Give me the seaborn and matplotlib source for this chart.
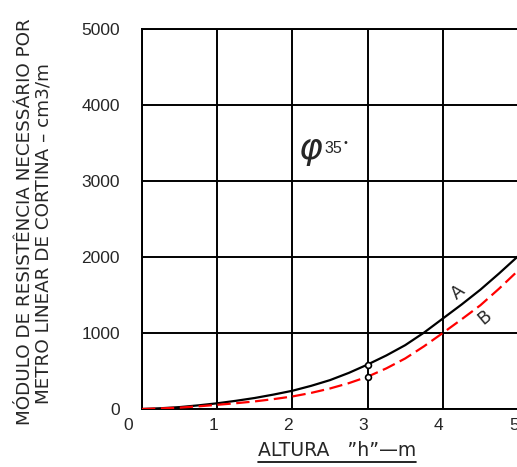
import pandas as pd
import matplotlib.pyplot as plt
import seaborn as sns
from matplotlib.lines import Line2D
from matplotlib.transforms import IdentityTransform, ScaledTranslation

# values
altura = [0, 0.25, 0.5, 0.75, 1, 1.25, 1.5, 1.75, 2, 2.25, 2.5,
          2.75, 3, 3.25, 3.5, 3.75, 4, 4.25, 4.5, 4.75, 5]
modulo_a = [0, 10, 25, 48, 75, 108, 145, 190, 240, 305, 380,
            475, 585, 705, 840, 1005, 1190, 1375, 1570, 1785, 2010]
modulo_b = [0, 8, 18, 35, 55, 76, 100, 130, 165, 212, 270,
            340, 425, 535, 665, 825, 1000, 1180, 1365, 1585, 1820]
ponto_h = [3, 3]
ponto_m = [585, 425]

X_TICKS = [0, 1, 2, 3, 4, 5]
Y_TICKS = [0, 1000, 2000, 3000, 4000, 5000]
Y_LABEL_1 = "MÓDULO DE RESISTÊNCIA NECESSÁRIO POR"
Y_LABEL_2 = "METRO LINEAR DE CORTINA – cm3/m"
X_LABEL = "ALTURA   ”h”—m"


def build_df():
    df = pd.DataFrame({'altura': altura * 2,
                       'modulo': modulo_a + modulo_b,
                       'curva': ['A'] * len(altura) + ['B'] * len(altura)})
    return df


def draw(df):
    sns.set_style("white")
    plt.rcParams['font.family'] = ['DejaVu Sans']
    fig = plt.figure(figsize=(5.17, 4.67), dpi=100)
    ax = fig.add_axes([142 / 517, 1 - 409 / 467, 376 / 517, 380 / 467])

    sns.lineplot(data=df, x='altura', y='modulo', hue='curva', style='curva',
                 palette={'A': 'black', 'B': '#ff0000'},
                 dashes={'A': '', 'B': (6, 2.5)}, linewidth=1.6,
                 legend=False, ax=ax, zorder=3)
    ax.plot(ponto_h, ponto_m, 'o', markersize=4.2, markerfacecolor='white',
            markeredgecolor='black', markeredgewidth=1.2, zorder=4)

    ax.set_xlim(0, 5)
    ax.set_ylim(0, 5000)
    ax.set_xticks(X_TICKS)
    ax.set_yticks(Y_TICKS)
    ax.grid(True, color='black', linewidth=1.4)
    for s in ax.spines.values():
        s.set_color('black')
        s.set_linewidth(1.4)
    ax.tick_params(axis='x', length=0, pad=6.5, labelsize=12.5)
    ax.tick_params(axis='y', length=0, pad=16, labelsize=12.5)
    for lab in ax.get_xticklabels() + ax.get_yticklabels():
        lab.set_fontfamily('Liberation Sans')
    for i, lab in enumerate(ax.get_xticklabels()):
        dx = -14 if i == 0 else -4
        lab.set_transform(lab.get_transform() +
                          ScaledTranslation(dx / 100, 0, fig.dpi_scale_trans))
    ax.set_xlabel('')
    ax.set_ylabel('')

    ax.text(4.21, 1540, 'A', rotation=40, fontsize=12.5, ha='center', va='center')
    ax.text(4.56, 1200, 'B', rotation=40, fontsize=12.5, ha='center', va='center')
    ax.text(2.24, 3390, r'$\varphi$', fontsize=26, ha='center', va='center')
    ax.text(2.42, 3430, '35', fontsize=11.5, ha='left', va='center',
            family='Liberation Sans')
    ax.text(2.67, 3500, '•', fontsize=7, ha='left', va='center')

    fig.text(25 / 517, 1 - 222 / 467, Y_LABEL_1, rotation=90, fontsize=13.2,
             ha='center', va='center')
    fig.text(44 / 517, 1 - 234 / 467, Y_LABEL_2, rotation=90, fontsize=13.2,
             ha='center', va='center')
    xl = fig.text(337 / 517, 1 - 451 / 467, X_LABEL, fontsize=13.6,
                  ha='center', va='center')

    fig.canvas.draw()
    bb = xl.get_window_extent()
    fig.add_artist(Line2D([bb.x0, bb.x1], [bb.y0 - 1, bb.y0 - 1],
                          transform=IdentityTransform(), color='black',
                          linewidth=1.2))
    fig.savefig('out.png', dpi=100)


if __name__ == "__main__":
    data = build_df()
    draw(data)
